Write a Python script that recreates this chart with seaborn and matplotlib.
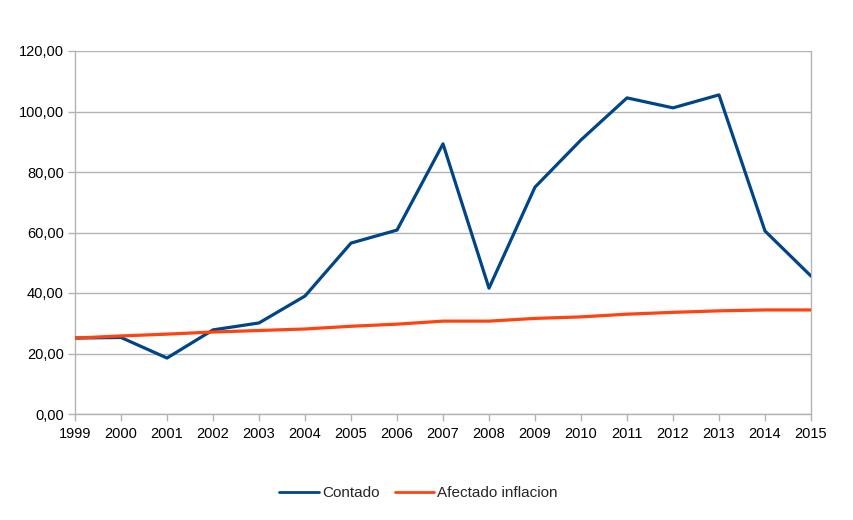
import matplotlib
matplotlib.use("Agg")
import matplotlib.pyplot as plt
import seaborn as sns
import pandas as pd
from matplotlib.ticker import FuncFormatter, MultipleLocator
from matplotlib.lines import Line2D

years = list(range(1999, 2016))
contado = [25.1, 25.3, 18.5, 27.8, 30.1, 39.0, 56.5, 60.8, 89.3, 41.6, 75.0, 90.6, 104.5, 101.2, 105.5, 60.5, 45.6]
inflacion = [25.1, 25.8, 26.4, 27.1, 27.6, 28.1, 29.0, 29.7, 30.7, 30.7, 31.6, 32.1, 33.0, 33.6, 34.1, 34.4, 34.4]
series_names = ["Contado", "Afectado inflacion"]
colors = ["#004586", "#ff420e"]

df = pd.DataFrame({
    "year": years * 2,
    "value": contado + inflacion,
    "serie": [series_names[0]] * len(years) + [series_names[1]] * len(years),
})

sns.set_style("white")
plt.rcParams["font.family"] = ["Liberation Sans", "DejaVu Sans"]

fig = plt.figure(figsize=(8.54, 5.2), dpi=100)
ax = fig.add_axes([75 / 854, 1 - 414 / 520, (811 - 75) / 854, (414 - 51) / 520])

sns.lineplot(data=df, x="year", y="value", hue="serie", palette=colors,
             linewidth=2.3, ax=ax, legend=False, zorder=3)
ax.lines[1].set_zorder(4)

ax.set_xlim(1999, 2015)
ax.set_ylim(0, 120)
ax.yaxis.set_major_locator(MultipleLocator(20))
ax.set_xticks(years)
ax.set_xticklabels([str(y) for y in years], fontsize=10.5)
ax.yaxis.set_major_formatter(FuncFormatter(lambda v, p: f"{v:.2f}".replace(".", ",")))
ax.tick_params(axis="y", left=True, labelsize=10.5, length=5, width=1, pad=3,
               color="#b3b3b3", labelcolor="#000000")
ax.tick_params(axis="x", bottom=True, length=5, width=1, pad=4,
               color="#b3b3b3", labelcolor="#000000")
ax.set_xlabel("")
ax.set_ylabel("")
ax.grid(axis="y", color="#b3b3b3", linewidth=1)
ax.grid(axis="x", visible=False)
for s in ["left", "bottom", "right"]:
    ax.spines[s].set_visible(True)
    ax.spines[s].set_color("#b3b3b3")
    ax.spines[s].set_linewidth(1)
ax.spines["top"].set_visible(False)

handles = [Line2D([0], [0], color=c, linewidth=2.0) for c in colors]
fig.legend(handles, series_names, loc="center", bbox_to_anchor=(0.49, 1 - 493 / 520),
           ncol=2, frameon=False, fontsize=11, handlelength=2.6, handletextpad=0.2,
           columnspacing=1.0)

fig.savefig("out.png", dpi=100, facecolor="white")
